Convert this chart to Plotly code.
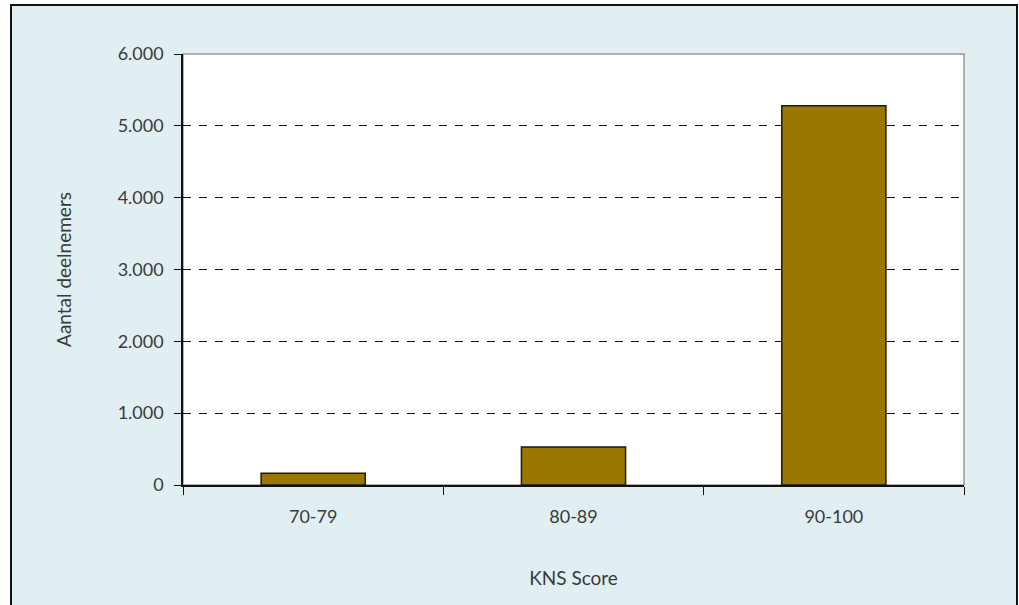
import plotly.graph_objects as go

categories = ["70-79", "80-89", "90-100"]
values = [165, 530, 5280]
y_ticks = [0, 1000, 2000, 3000, 4000, 5000, 6000]
y_tick_labels = ["0", "1.000", "2.000", "3.000", "4.000", "5.000", "6.000"]

W, H = 1019, 605
L, R, T, B = 183, 964, 54, 485
pw, ph = R - L, B - T

def px(x):
    return (x - L) / pw

def py(y):
    return (B - y) / ph

FONT = "Lato"
TXT = "#3a3a3a"

fig = go.Figure()
fig.add_trace(go.Bar(
    x=categories, y=values, width=0.4,
    marker=dict(color="#9a7800", line=dict(color="#1a1a1a", width=1.5)),
))

fig.update_layout(
    width=W, height=H,
    margin=dict(l=L, r=W - R, t=T, b=H - B),
    paper_bgcolor="white",
    plot_bgcolor="white",
    showlegend=False,
    font=dict(family=FONT, size=18, color=TXT),
    bargap=0.6,
    shapes=[
        dict(type="rect", xref="paper", yref="paper",
             x0=px(11), x1=px(1017), y0=py(640), y1=py(5),
             fillcolor="#e1eef2", line=dict(color="#111111", width=2), layer="below"),
        dict(type="rect", xref="paper", yref="paper",
             x0=0, x1=1, y0=0, y1=1,
             fillcolor="white", line=dict(color="#999999", width=1.5), layer="below"),
    ],
)

fig.update_xaxes(
    type="category", tickson="boundaries", ticks="outside", ticklen=8,
    tickcolor="#111111", showline=True, linecolor="#111111", linewidth=1.5,
    showgrid=False, tickfont=dict(size=18, color=TXT), ticklabelstandoff=15,
    title=dict(text="KNS Score", font=dict(size=19, color=TXT), standoff=45),
)
fig.update_yaxes(
    range=[0, 6000], tickvals=y_ticks, ticktext=y_tick_labels,
    ticks="outside", ticklen=7, tickcolor="#111111",
    showline=True, linecolor="#111111", linewidth=1.5,
    showgrid=True, gridcolor="#111111", griddash="8px,8px", gridwidth=1,
    zeroline=False, tickfont=dict(size=18, color=TXT), ticklabelstandoff=7,
    title=dict(text="Aantal deelnemers", font=dict(size=19, color=TXT), standoff=41),
)

fig.write_html("out.html", config={"displayModeBar": False},
               post_script="document.body.style.margin='0';")
